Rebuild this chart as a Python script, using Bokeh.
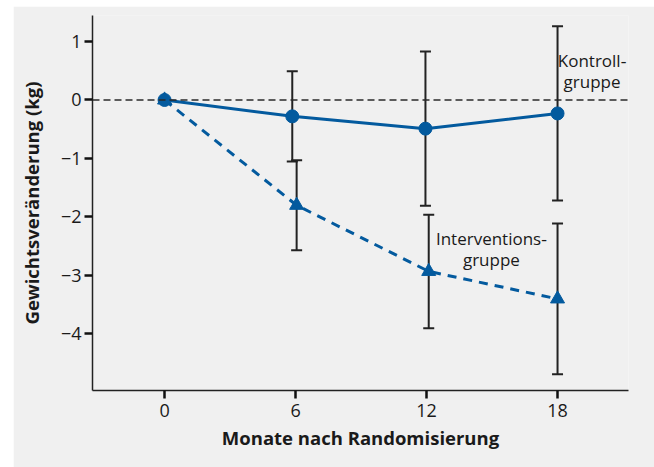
from bokeh.plotting import figure
from bokeh.models import Range1d, FixedTicker, Whisker, ColumnDataSource, TeeHead, Span, Label, Spacer
from bokeh.layouts import column, row
from bokeh.embed import file_html
from bokeh.resources import INLINE

# Data
months_ctrl = [0, 5.85, 11.95, 18]
ctrl_mean = [0.0, -0.28, -0.49, -0.23]
ctrl_err = [0.0, 0.77, 1.32, 1.49]

months_int = [0, 6.05, 12.1, 18]
int_mean = [0.0, -1.80, -2.93, -3.40]
int_err = [0.0, 0.77, 0.97, 1.29]

x_ticks = [0, 6, 12, 18]
y_ticks = [-4, -3, -2, -1, 0, 1]
y_tick_labels = {-4: "\u22124", -3: "\u22123", -2: "\u22122", -1: "\u22121", 0: "0", 1: "1"}

BLUE = "#035a9e"
GREY = "#f0f0f0"
FONT = "Open Sans"

p = figure(width=641, height=461, output_backend="svg", toolbar_location=None,
           x_range=Range1d(-3.30, 21.25), y_range=Range1d(-4.966, 1.444),
           min_border_left=79, min_border_right=26, min_border_top=9, min_border_bottom=77)
p.background_fill_color = GREY
p.border_fill_color = GREY
p.outline_line_color = None
p.grid.visible = False

for ax in (p.xaxis, p.yaxis):
    ax.axis_line_color = "#222222"
    ax.axis_line_width = 1.5
    ax.major_tick_line_color = "#111111"
    ax.major_tick_line_width = 2.5
    ax.major_tick_in = 0
    ax.major_tick_out = 8
    ax.minor_tick_line_color = None
    ax.major_label_text_font = FONT
    ax.major_label_text_font_size = "18px"
    ax.major_label_text_color = "#1a1a1a"
    ax.axis_label_text_font = FONT
    ax.axis_label_text_font_style = "bold"
    ax.axis_label_text_font_size = "18.5px"
    ax.axis_label_text_color = "#1a1a1a"

p.xaxis.ticker = FixedTicker(ticks=x_ticks)
p.yaxis.ticker = FixedTicker(ticks=y_ticks)
p.yaxis.major_label_overrides = y_tick_labels
p.xaxis.axis_label = "Monate nach Randomisierung"
p.yaxis.axis_label = "Gewichtsver\u00e4nderung (kg)"
p.xaxis.major_label_standoff = 5
p.yaxis.major_label_standoff = 3
p.xaxis.axis_label_standoff = 5
p.yaxis.axis_label_standoff = 14

# zero reference line
p.add_layout(Span(location=0, dimension="width", line_color="#2a2a2a", line_width=1.3,
                  line_dash="7 4"))

# error bars
src_c = ColumnDataSource(dict(x=months_ctrl[1:], lo=[m - e for m, e in zip(ctrl_mean[1:], ctrl_err[1:])],
                              hi=[m + e for m, e in zip(ctrl_mean[1:], ctrl_err[1:])]))
src_i = ColumnDataSource(dict(x=months_int[1:], lo=[m - e for m, e in zip(int_mean[1:], int_err[1:])],
                              hi=[m + e for m, e in zip(int_mean[1:], int_err[1:])]))
for src in (src_c, src_i):
    w = Whisker(source=src, base="x", lower="lo", upper="hi", line_color="#222222", line_width=2,
                lower_head=TeeHead(size=11, line_color="#222222", line_width=2),
                upper_head=TeeHead(size=11, line_color="#222222", line_width=2))
    p.add_layout(w)

# lines
p.line(months_int, int_mean, line_color=BLUE, line_width=3, line_dash="9 7")
p.line(months_ctrl, ctrl_mean, line_color=BLUE, line_width=3)
p.scatter(months_int, int_mean, marker="triangle", size=14, color=BLUE)
p.scatter(months_ctrl, ctrl_mean, marker="circle", size=13, color=BLUE)

# annotations
for txt, x, y in [("Kontroll\u2010\ngruppe", 19.58, 0.50),
                  ("Interventions\u2010\ngruppe", 14.97, -2.545)]:
    p.add_layout(Label(x=x, y=y, text=txt, text_font=FONT, text_font_size="17px",
                       text_color="#1a1a1a", text_align="center", text_baseline="middle",
                       text_line_height=0.93))

layout = column(Spacer(height=6), row(Spacer(width=13), p, spacing=0), spacing=0)
open("out.html", "w").write(file_html(layout, INLINE))
